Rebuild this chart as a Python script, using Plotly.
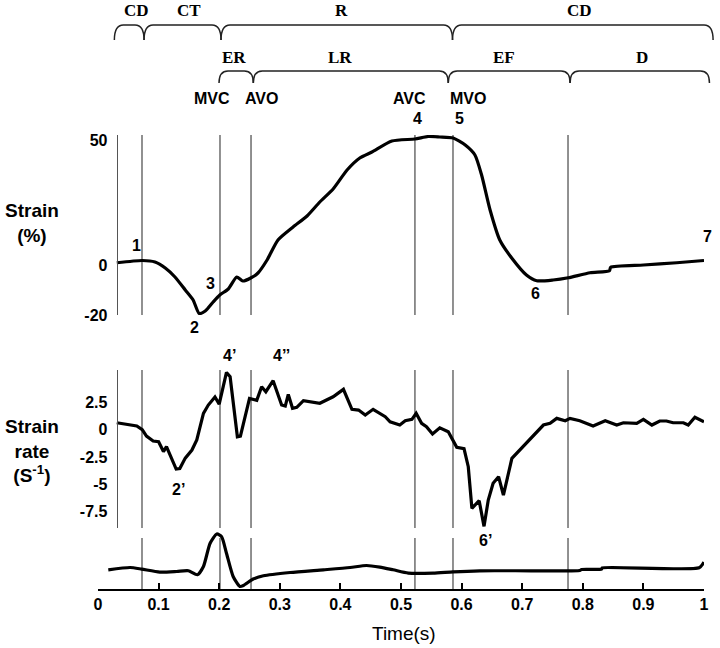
import plotly.graph_objects as go

# ---------------- data ----------------
strain_t = [0.031, 0.073, 0.094, 0.111, 0.127, 0.144, 0.157, 0.167, 0.177, 0.190, 0.201,
            0.215, 0.229, 0.239, 0.252, 0.264, 0.279, 0.297, 0.322, 0.345, 0.366, 0.388,
            0.411, 0.432, 0.452, 0.485, 0.523, 0.545, 0.564, 0.586, 0.606, 0.622, 0.633,
            0.647, 0.663, 0.683, 0.707, 0.724, 0.751, 0.776, 0.812, 0.844, 0.846, 0.900,
            0.955, 1.000]
strain = [0.9, 1.8, 1.2, -1.2, -4.8, -10, -14, -19.4, -18.4, -14.8, -12,
          -9.6, -4.8, -6.4, -5.2, -3.2, 2, 10, 15.2, 19.6, 25.2, 30.4,
          38, 42.8, 45.2, 49.6, 50.4, 51.4, 51.2, 50.8, 48, 44, 36,
          22, 10, 2.7, -4, -6.3, -6, -5.1, -3.1, -2.3, -0.9, 0,
          0.9, 1.8]

rate_t = [0.031, 0.064, 0.073, 0.080, 0.091, 0.100, 0.108, 0.113, 0.129, 0.135, 0.144,
          0.155, 0.163, 0.174, 0.182, 0.193, 0.200, 0.206, 0.212, 0.218, 0.230, 0.235,
          0.250, 0.262, 0.270, 0.277, 0.289, 0.303, 0.309, 0.314, 0.321, 0.328, 0.339,
          0.366, 0.388, 0.405, 0.419, 0.430, 0.441, 0.454, 0.474, 0.482, 0.498, 0.507,
          0.518, 0.525, 0.534, 0.542, 0.552, 0.564, 0.578, 0.592, 0.604, 0.611, 0.617,
          0.629, 0.637, 0.644, 0.652, 0.661, 0.669, 0.683, 0.691, 0.707, 0.716, 0.735,
          0.746, 0.757, 0.771, 0.779, 0.795, 0.817, 0.837, 0.856, 0.867, 0.889, 0.900,
          0.914, 0.927, 0.938, 0.949, 0.966, 0.974, 0.985, 1.000]
rate = [0.64, 0.34, 0.0, -0.58, -1.03, -1.1, -2.0, -1.55, -3.6, -3.55, -2.6,
        -1.86, -0.94, 1.5, 2.26, 3.0, 2.35, 3.7, 5.25, 4.85, -0.64, -0.58,
        2.87, 2.7, 3.94, 3.48, 4.49, 2.26, 2.17, 3.24, 1.96, 2.05, 2.66,
        2.42, 3.02, 3.7, 1.87, 1.8, 1.35, 1.87, 1.19, 0.73, 0.43, 0.82,
        0.95, 1.5, 0.59, 0.27, -0.39, 0.18, -0.18, -1.61, -1.74, -3.39, -7.2,
        -6.5, -8.85, -6.44, -4.9, -4.3, -5.98, -2.62, -2.16, -1.25, -0.7, 0.43,
        0.59, 1.04, 0.82, 1.04, 0.82, 0.34, 0.82, 0.43, 0.64, 0.59, 0.95,
        0.43, 0.8, 0.8, 0.64, 0.64, 0.43, 1.14, 0.73]

ecg_t = [0.017, 0.053, 0.072, 0.102, 0.130, 0.149, 0.164, 0.174, 0.185, 0.196, 0.204,
         0.212, 0.223, 0.234, 0.240, 0.256, 0.273, 0.317, 0.372, 0.416, 0.443, 0.465,
         0.487, 0.512, 0.553, 0.586, 0.630, 0.718, 0.795, 0.798, 0.831, 0.832, 0.992,
         1.000]
ecg = [19.3, 21.6, 20, 17, 17.6, 18.3, 14.3, 22.6, 46, 55.3, 52.6,
       36, 12.6, 2.6, 3.6, 10, 13.3, 16.6, 19.3, 21.6, 23.6, 22,
       19.3, 16, 16, 17.3, 18.3, 18.3, 18.6, 19.6, 20, 21.3, 21.3,
       27]

event_t = [0.0726, 0.2013, 0.2525, 0.523, 0.5858, 0.7756]

x_ticks = [0, 0.1, 0.2, 0.3, 0.4, 0.5, 0.6, 0.7, 0.8, 0.9, 1]
x_ticktext = ["0", "0.1", "0.2", "0.3", "0.4", "0.5", "0.6", "0.7", "0.8", "0.9", "1"]
strain_ticks = [-20, 0, 50]
strain_ticktext = ["-20", "0", "50"]
rate_ticks = [-7.5, -5, -2.5, 0, 2.5]
rate_ticktext = ["-7.5", "-5", "-2.5", "0", "2.5"]

# phase braces: (start, end, label, label_x)
row1 = [(0.027, 0.076, "CD", 0.064), (0.076, 0.203, "CT", 0.150),
        (0.203, 0.585, "R", 0.402), (0.585, 1.015, "CD", 0.795)]
row2 = [(0.1997, 0.2563, "ER", 0.224), (0.2563, 0.578, "LR", 0.399),
        (0.578, 0.779, "EF", 0.670), (0.779, 1.009, "D", 0.897)]

# ---------------- figure ----------------
W, H = 720, 648
L, R = 98, 16


def py(p):
    return 1 - p / H


line_style = dict(color="black", width=3.2)
fig = go.Figure()
fig.add_trace(go.Scatter(x=strain_t, y=strain, mode="lines",
                         line=dict(color="black", width=3.2, shape="spline", smoothing=0.6),
                         xaxis="x", yaxis="y", showlegend=False))
fig.add_trace(go.Scatter(x=rate_t, y=rate, mode="lines", line=line_style,
                         xaxis="x", yaxis="y2", showlegend=False))
fig.add_trace(go.Scatter(x=ecg_t, y=ecg, mode="lines",
                         line=dict(color="black", width=3.2, shape="spline", smoothing=0.6),
                         xaxis="x", yaxis="y3", showlegend=False))

sans_b = dict(family="Liberation Sans", size=16, color="black", weight="bold")
serif_b = dict(family="Liberation Serif", size=17, color="black", weight="bold")

shapes = []
panels = [(135, 315), (370, 528), (538, 589)]
for (top, bot) in panels:
    for t in event_t:
        shapes.append(dict(type="line", xref="x", yref="paper", x0=t, x1=t,
                           y0=py(bot), y1=py(top), layer="below",
                           line=dict(color="#555555", width=1.3)))


def brace(x0, x1, ytop, ybot):
    dx = 9 / (W - L - R)
    yt, yb = py(ytop), py(ybot)
    return (f"M {x0},{yb} Q {x0},{yt} {x0+dx},{yt} L {x1-dx},{yt} "
            f"Q {x1},{yt} {x1},{yb}")


def ann(text, x, y, font, **kw):
    d = dict(text=text, x=x, y=y, xref="paper", yref="paper", showarrow=False,
             font=font, xanchor="center", yanchor="middle")
    d.update(kw)
    return d


annotations = []
for (a, b, lab, lx) in row1:
    shapes.append(dict(type="path", xref="paper", yref="paper",
                       path=brace(a, b, 25, 40),
                       line=dict(color="#222222", width=1.5)))
    annotations.append(ann(lab, lx, py(11), serif_b))
for (a, b, lab, lx) in row2:
    shapes.append(dict(type="path", xref="paper", yref="paper",
                       path=brace(a, b, 71, 83),
                       line=dict(color="#222222", width=1.5)))
    annotations.append(ann(lab, lx, py(57), serif_b))

labels = [("MVC", 0.1876, 98), ("AVO", 0.270, 98), ("AVC", 0.5137, 98), ("MVO", 0.611, 98),
          ("4", 0.527, 118), ("5", 0.596, 118),
          ("1", 0.0639, 245), ("3", 0.186, 283), ("2", 0.160, 327), ("6", 0.7223, 293),
          ("7", 1.005, 237),
          ("4’", 0.2167, 355), ("4’’", 0.303, 355), ("2’", 0.1325, 489), ("6’", 0.640, 540)]
for (txt, lx, ly) in labels:
    annotations.append(ann(txt, lx, py(ly), sans_b))

title_font = dict(family="Liberation Sans", size=19, color="black", weight="bold")
tx = (31.7 - L) / (W - L - R)
annotations.append(ann("Strain<br>(%)", tx, py(223), title_font, align="center"))
annotations.append(ann("Strain<br>rate<br>(S<sup>-1</sup>)", tx, py(451), title_font,
                       align="center"))
annotations.append(ann("Time(s)", 0.505, py(633),
                       dict(family="Liberation Sans", size=19, color="black")))

fig.update_layout(
    width=W, height=H,
    margin=dict(l=L, r=R, t=0, b=0, autoexpand=False),
    paper_bgcolor="white", plot_bgcolor="white",
    xaxis=dict(domain=[0, 1], range=[0, 1], anchor="y3", showgrid=False, zeroline=False,
               showline=True, linecolor="black", linewidth=1.5,
               ticks="inside", ticklen=6, tickwidth=1.5, tickcolor="black",
               tickvals=x_ticks, ticktext=x_ticktext, tickfont=sans_b),
    yaxis=dict(domain=[py(315), py(135)], range=[-20, 52], anchor="free", position=0.031,
               showgrid=False, zeroline=False, showline=True, linecolor="#555555",
               linewidth=1.3, ticks="", tickvals=strain_ticks, ticktext=strain_ticktext,
               tickfont=sans_b, ticklabelstandoff=6),
    yaxis2=dict(domain=[py(528), py(370)], range=[-9.0, 5.47], anchor="free", position=0.031,
                showgrid=False, zeroline=False, showline=True, linecolor="#555555",
                linewidth=1.3, ticks="", tickvals=rate_ticks, ticktext=rate_ticktext,
                tickfont=sans_b, ticklabelstandoff=6),
    yaxis3=dict(domain=[py(589), py(530)], range=[0, 59.3], visible=False,
                showgrid=False, zeroline=False),
    shapes=shapes,
    annotations=annotations,
)

fig.write_html("out.html", config={"displayModeBar": False},
               post_script="document.body.style.margin='0px';")
